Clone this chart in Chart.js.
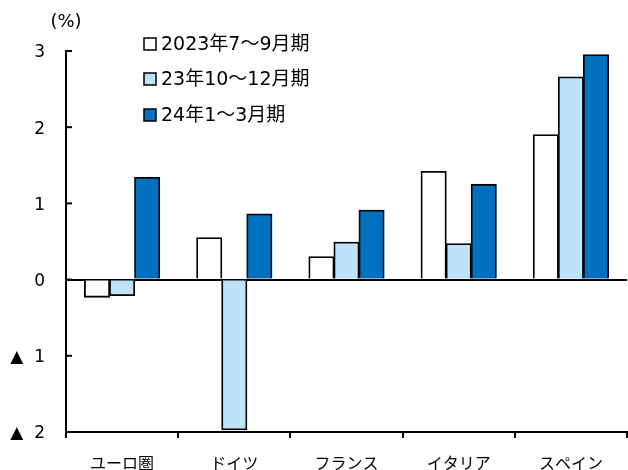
<!DOCTYPE html>
<html>
<head>
<meta charset="utf-8">
<script src="https://cdn.jsdelivr.net/npm/chart.js@4"></script>
<style>
  html, body { margin: 0; padding: 0; background: #fff; }
  #wrap { width: 628px; height: 470px; position: relative; }
</style>
</head>
<body>
<div id="wrap"><canvas id="myChart" width="628" height="470"></canvas></div>
<script>
const FONT = '"DejaVu Sans", "Noto Sans CJK JP", sans-serif';

// data
const categories = ['ユーロ圏', 'ドイツ', 'フランス', 'イタリア', 'スペイン'];
const seriesNames = ['2023年7～9月期', '23年10～12月期', '24年1～3月期'];
const q3_2023 = [-0.23, 0.55, 0.30, 1.42, 1.90];
const q4_2023 = [-0.21, -1.97, 0.49, 0.47, 2.66];
const q1_2024 = [1.34, 0.86, 0.91, 1.25, 2.95];
const seriesColors = ['#ffffff', '#bde3fb', '#0070c0'];
const yTicks = [-2, -1, 0, 1, 2, 3];

// inward tick marks on the y axis, the (%) unit and the boxed legend
const extras = {
  id: 'extras',
  afterDraw(chart) {
    const c = chart.ctx;
    const y = chart.scales.y;
    const area = chart.chartArea;
    c.save();
    c.strokeStyle = '#000';
    c.lineWidth = 2;
    yTicks.forEach(v => {
      const py = y.getPixelForValue(v);
      c.beginPath();
      c.moveTo(area.left, py);
      c.lineTo(area.left + 6, py);
      c.stroke();
    });

    c.fillStyle = '#000';
    c.font = '18px ' + FONT;
    c.textAlign = 'center';
    c.textBaseline = 'middle';
    c.fillText('(%)', 66, 22);

    c.textAlign = 'left';
    c.font = '19px ' + FONT;
    const ys = [44, 79, 115];
    chart.data.datasets.forEach((ds, i) => {
      c.fillStyle = ds.backgroundColor;
      c.fillRect(144, ys[i] - 6, 12, 12);
      c.lineWidth = 1.5;
      c.strokeStyle = '#000';
      c.strokeRect(144, ys[i] - 6, 12, 12);
      c.fillStyle = '#000';
      c.fillText(ds.label, 161, ys[i] + 1);
    });
    c.restore();
  }
};

const ctx = document.getElementById('myChart').getContext('2d');
const myChart = new Chart(ctx, {
  type: 'bar',
  data: {
    labels: categories,
    datasets: [q3_2023, q4_2023, q1_2024].map((d, i) => ({
      label: seriesNames[i],
      data: d,
      backgroundColor: seriesColors[i],
      borderColor: '#000',
      borderWidth: 1.8,
      inflateAmount: 0.5,
      categoryPercentage: 0.67,
      barPercentage: 1,
    })),
  },
  options: {
    responsive: false,
    animation: false,
    devicePixelRatio: 1,
    layout: { padding: { top: 51, right: 1, left: 0, bottom: 0 } },
    plugins: { legend: { display: false }, tooltip: { enabled: false } },
    scales: {
      x: {
        grid: {
          offset: true,
          drawOnChartArea: false,
          drawTicks: true,
          tickLength: 6,
          color: '#000',
          lineWidth: 2,
        },
        border: { color: '#000', width: 2 },
        ticks: {
          color: '#000',
          font: { family: FONT, size: 16 },
          padding: 17,
          maxRotation: 0,
          autoSkip: false,
        },
        afterFit(s) { s.height = 38; },
      },
      y: {
        min: -2,
        max: 3,
        afterBuildTicks(s) { s.ticks = yTicks.map(v => ({ value: v })); },
        grid: {
          drawTicks: false,
          color: c => (c.tick && c.tick.value === 0 ? '#000' : 'rgba(0,0,0,0)'),
          lineWidth: 2,
        },
        border: { color: '#000', width: 2 },
        ticks: {
          color: '#000',
          font: { family: FONT, size: 17 },
          padding: 21,
          labelOffset: 2,
          callback: v => (v < 0 ? '▲  ' + Math.abs(v) : String(v)),
        },
        afterFit(s) { s.width = 66; },
      },
    },
  },
  plugins: [extras],
});
</script>
</body>
</html>
